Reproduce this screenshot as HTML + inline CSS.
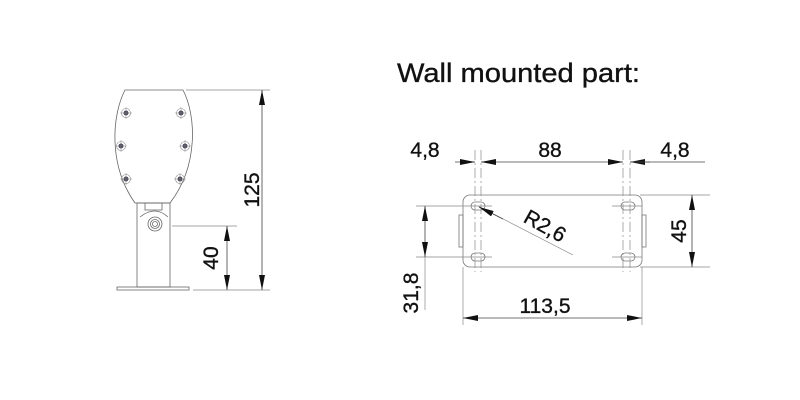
<!DOCTYPE html>
<html><head><meta charset="utf-8"><style>
html,body{margin:0;padding:0;background:#fff;width:800px;height:400px;overflow:hidden}
svg text{font-family:"Liberation Sans",sans-serif;fill:#111;stroke:#111;stroke-width:0.35}
</style></head><body>
<svg width="800" height="400" viewBox="0 0 800 400" xmlns="http://www.w3.org/2000/svg">
<defs>
<marker id="a" viewBox="0 0 15 6" refX="15" refY="3" markerWidth="15" markerHeight="6" markerUnits="userSpaceOnUse" orient="auto-start-reverse"><path d="M0,0L15,3L0,6z" fill="#111"/></marker>
<g id="s"><circle r="4.5" fill="none" stroke="#888" stroke-width="0.6"/><circle r="2.5" fill="#445"/><line x1="-6" y1="0" x2="6" y2="0" stroke="#888" stroke-width="0.5"/><line x1="0" y1="-6" x2="0" y2="6" stroke="#888" stroke-width="0.5"/></g>
</defs>
<!-- LEFT DRAWING -->
<g fill="none" stroke="#666" stroke-width="0.8">
<path d="M125,90 L183,90 C196,115 199,165 170,203 L135,203 C108,165 112,115 125,90 Z"/>
<rect x="137" y="203" width="33" height="84"/>
<rect x="145" y="203" width="17" height="7"/>
<path d="M140,217 Q155,205 168,217"/>
<rect x="117" y="287" width="72" height="3"/>
<circle cx="155" cy="224" r="7"/><circle cx="155" cy="224" r="4.5"/><circle cx="155" cy="224" r="2.5"/>
</g>
<use href="#s" x="126" y="113"/><use href="#s" x="181" y="113"/>
<use href="#s" x="121" y="146"/><use href="#s" x="185" y="146"/>
<use href="#s" x="126" y="179"/><use href="#s" x="180" y="179"/>
<g stroke="#888" stroke-width="0.7">
<line x1="186" y1="90" x2="270" y2="90"/>
<line x1="193" y1="290" x2="270" y2="290"/>
<line x1="172" y1="226" x2="237" y2="226"/>
</g>
<g stroke="#444" stroke-width="0.8">
<line x1="262" y1="90" x2="262" y2="290" marker-start="url(#a)" marker-end="url(#a)"/>
<line x1="227" y1="226" x2="227" y2="290" marker-start="url(#a)" marker-end="url(#a)"/>
</g>
<text x="252" y="190" font-size="21" text-anchor="middle" transform="rotate(-90 252 190)" dy="7">125</text>
<text x="211" y="258" font-size="21" text-anchor="middle" transform="rotate(-90 211 258)" dy="7">40</text>
<!-- TITLE -->
<text x="397" y="82" font-size="27" textLength="243" lengthAdjust="spacingAndGlyphs">Wall mounted part:</text>
<!-- RIGHT DRAWING -->
<g fill="none" stroke="#777" stroke-width="0.8">
<rect x="463" y="195" width="179" height="72" rx="7"/>
<rect x="459" y="215" width="4" height="32"/>
<rect x="642" y="215" width="4" height="32"/>
<rect x="471" y="202" width="14" height="8" rx="4"/>
<rect x="471" y="253" width="14" height="8" rx="4"/>
<rect x="621" y="202" width="14" height="8" rx="4"/>
<rect x="621" y="253" width="14" height="8" rx="4"/>
</g>
<g stroke="#888" stroke-width="0.7" stroke-dasharray="10,3,2,3">
<line x1="475" y1="150" x2="475" y2="272"/><line x1="481" y1="150" x2="481" y2="272"/>
<line x1="623" y1="150" x2="623" y2="272"/><line x1="630" y1="150" x2="630" y2="272"/>
</g>
<g stroke="#888" stroke-width="0.7">
<line x1="416" y1="206" x2="492" y2="206"/>
<line x1="416" y1="257" x2="492" y2="257"/>
<line x1="612" y1="206" x2="642" y2="206"/>
<line x1="612" y1="257" x2="642" y2="257"/>
<line x1="640" y1="195" x2="710" y2="195"/>
<line x1="640" y1="267" x2="710" y2="267"/>
<line x1="463" y1="267" x2="463" y2="325"/>
<line x1="642" y1="267" x2="642" y2="325"/>
<line x1="425" y1="257" x2="425" y2="310"/>
<line x1="478" y1="206" x2="573" y2="255"/>
</g>
<g stroke="#444" stroke-width="0.8">
<line x1="455" y1="162" x2="475" y2="162" marker-end="url(#a)"/>
<line x1="481" y1="162" x2="623" y2="162" marker-start="url(#a)" marker-end="url(#a)"/>
<line x1="650" y1="162" x2="630" y2="162" marker-end="url(#a)"/>
<line x1="630" y1="162" x2="705" y2="162"/>
<line x1="425" y1="206" x2="425" y2="257" marker-start="url(#a)" marker-end="url(#a)"/>
<line x1="692" y1="195" x2="692" y2="267" marker-start="url(#a)" marker-end="url(#a)"/>
<line x1="463" y1="318" x2="642" y2="318" marker-start="url(#a)" marker-end="url(#a)"/>
<line x1="503" y1="219" x2="479" y2="207" marker-end="url(#a)"/>
</g>
<text x="425" y="157" font-size="21" text-anchor="middle">4,8</text>
<text x="550" y="157" font-size="21" text-anchor="middle">88</text>
<text x="675" y="157" font-size="21" text-anchor="middle">4,8</text>
<text x="545" y="313" font-size="21" text-anchor="middle">113,5</text>
<text x="679" y="231" font-size="21" text-anchor="middle" transform="rotate(-90 679 231)" dy="7">45</text>
<text x="411" y="293" font-size="21" text-anchor="middle" transform="rotate(-90 411 293)" dy="7">31,8</text>
<text x="545" y="226" font-size="21" text-anchor="middle" transform="rotate(29 545 226)" dy="7">R2,6</text>
</svg>
</body></html>
